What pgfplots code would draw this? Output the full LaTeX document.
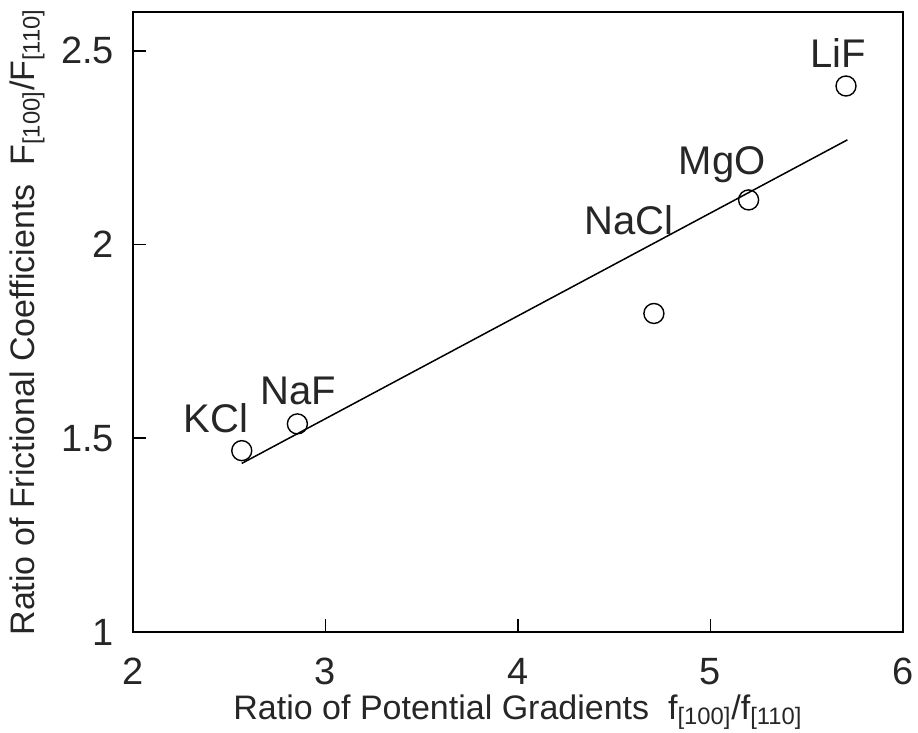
\documentclass[border=0pt]{standalone}
\usepackage{pgfplots}
\pgfplotsset{compat=1.18}
\usepackage{fontspec}
\setmainfont{Liberation Sans}
\begin{document}
\begin{tikzpicture}
    \begin{axis}[
        scale only axis,
        width=385pt, height=310pt,
        xmin=2, xmax=6,
        ymin=1, ymax=2.6,
        xtick={2,3,4,5,6},
        ytick={1,1.5,2,2.5},
        xtick pos=left, ytick pos=left,
        tick align=inside,
        major tick length=6.5pt,
        axis line style={line width=0.8pt},
        tick style={line width=0.8pt, black},
        /pgf/number format/assume math mode=true,
        ticklabel style={font=\fontsize{19}{22}\selectfont, text=black!85},
        xticklabel style={yshift=-9.5pt},
        yticklabel style={xshift=-6pt},
        xlabel={Ratio of Potential Gradients\ \ f\textsubscript{[100]}/f\textsubscript{[110]}},
        ylabel={Ratio of Frictional Coefficients\ \ F\textsubscript{[100]}/F\textsubscript{[110]}},
        label style={font=\fontsize{17}{20}\selectfont, text=black!85},
        xlabel style={at={(axis description cs:0.5,0)}, anchor=center, yshift=-40pt},
        ylabel style={at={(axis description cs:0,0.5)}, anchor=center, yshift=53pt},
    ]
        % measured points
        \addplot[only marks, mark=o, mark size=5pt, mark options={line width=0.7pt, fill=white}] coordinates {
            (2.565,1.468) (2.854,1.537) (4.706,1.822) (5.198,2.115) (5.704,2.409)
        };
        % fitted line
        \addplot[line width=0.75pt, black] coordinates {(2.565,1.435) (5.711,2.270)};

        \node[font=\fontsize{20}{24}\selectfont, text=black!85] at (axis cs:2.431,1.552) {KCl};
        \node[font=\fontsize{20}{24}\selectfont, text=black!85] at (axis cs:2.857,1.622) {NaF};
        \node[font=\fontsize{20}{24}\selectfont, text=black!85] at (axis cs:4.577,2.063) {NaCl};
        \node[font=\fontsize{20}{24}\selectfont, text=black!85] at (axis cs:5.060,2.205) {MgO};
        \node[font=\fontsize{20}{24}\selectfont, text=black!85] at (axis cs:5.662,2.494) {LiF};
    \end{axis}
    \pgfresetboundingbox
    \path (-66.5pt,-50.5pt) rectangle (392.5pt,316pt);
\end{tikzpicture}
\end{document}
